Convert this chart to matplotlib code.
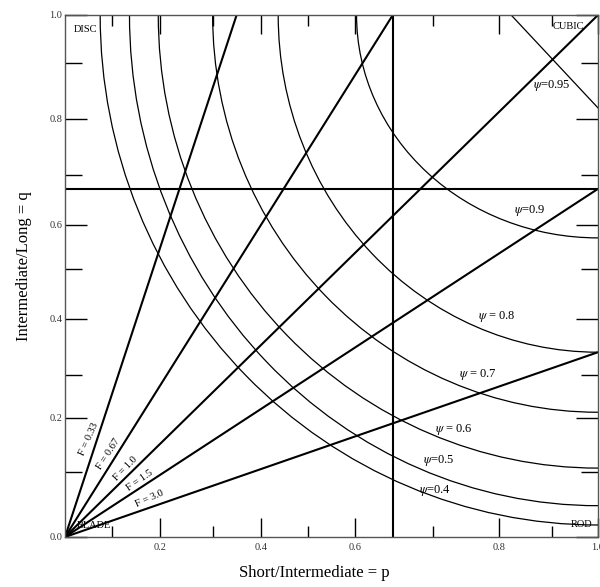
import numpy as np
import matplotlib
matplotlib.use('Agg')
import matplotlib.pyplot as plt
from matplotlib.patches import Arc

plt.rcParams['font.family'] = 'Liberation Serif'
plt.rcParams['mathtext.fontset'] = 'stix'

# flatness lines from the origin, end points (p, q)
F_labels = ['F = 0.33', 'F = 0.67', 'F = 1.0', 'F = 1.5', 'F = 3.0']
F_end_p = [0.322, 0.615, 1.0, 1.0, 1.0]
F_end_q = [1.0, 1.0, 1.0, 0.667, 0.354]

# sphericity curves, quarter arcs about the (1,1) corner
psi_labels = [r'$\psi$=0.4', r'$\psi$=0.5', r'$\psi$ = 0.6', r'$\psi$ = 0.7',
              r'$\psi$ = 0.8', r'$\psi$=0.9']
psi_rx = [0.934, 0.879, 0.825, 0.723, 0.600, 0.453]
psi_ry = [0.977, 0.940, 0.868, 0.761, 0.646, 0.427]
# psi = 0.95 is drawn as a short straight segment
psi95_p = [0.837, 1.0]
psi95_q = [1.0, 0.822]

# class boundaries
p_class = 0.616
q_class = 0.667

corner_names = ['DISC', 'CUBIC', 'BLADE', 'ROD']

x_major = [0.178, 0.368, 0.545, 0.814, 1.0]
x_major_labels = ['0.2', '0.4', '0.6', '0.8', '1.0']
x_minor = [0.088, 0.277, 0.456, 0.691, 0.914]
y_major = [0.0, 0.228, 0.418, 0.598, 0.801, 1.0]
y_major_labels = ['0.0', '0.2', '0.4', '0.6', '0.8', '1.0']
y_minor = [0.1245, 0.310, 0.513, 0.693, 0.9075]

# label placement (layout only)
F_text_pos = [(0.045, 0.188), (0.082, 0.160), (0.114, 0.132), (0.141, 0.108), (0.158, 0.073)]
F_text_rot = [66, 57, 46, 35, 24]
psi_text_pos = [(0.694, 0.090), (0.702, 0.1475), (0.729, 0.206), (0.774, 0.312),
                (0.811, 0.423), (0.872, 0.625)]
psi95_text_pos = (0.914, 0.864)
corner_pos = [(0.0385, 0.972), (0.944, 0.978), (0.055, 0.0216), (0.970, 0.024)]

fig = plt.figure(figsize=(6, 5.87), dpi=100)
ax = fig.add_axes([65/600, 50/587, 533/600, 522/587])

# thick lines
for p_end, q_end in zip(F_end_p, F_end_q):
    ax.plot([0, p_end], [0, q_end], color='black', lw=1.5, solid_capstyle='butt')
ax.axvline(p_class, color='black', lw=1.5)
ax.axhline(q_class, color='black', lw=1.5)

# sphericity arcs
for rx, ry in zip(psi_rx, psi_ry):
    ax.add_patch(Arc((1, 1), 2*rx, 2*ry, theta1=180, theta2=270,
                     color='black', lw=0.9))
ax.plot(psi95_p, psi95_q, color='black', lw=0.9)

for lab, (px, py), rot in zip(F_labels, F_text_pos, F_text_rot):
    ax.text(px, py, lab, rotation=rot, rotation_mode='anchor',
            ha='center', va='center', fontsize=7.5)
for lab, (px, py) in zip(psi_labels, psi_text_pos):
    ax.text(px, py, lab, ha='center', va='center', fontsize=9)
ax.text(psi95_text_pos[0], psi95_text_pos[1], r'$\psi$=0.95',
        ha='center', va='center', fontsize=9)

for name, (px, py) in zip(corner_names, corner_pos):
    ax.text(px, py, name, ha='center', va='center', fontsize=7.5)

ax.set_xlim(0, 1)
ax.set_ylim(0, 1)
ax.set_xticks(x_major)
ax.set_xticklabels(x_major_labels)
ax.set_xticks(x_minor, minor=True)
ax.set_yticks(y_major)
ax.set_yticklabels(y_major_labels)
ax.set_yticks(y_minor, minor=True)

ax.tick_params(which='both', direction='in', top=True, right=True,
               labelsize=7.5, labelcolor='#333333', width=1)
ax.tick_params(axis='x', which='major', length=14, pad=4)
ax.tick_params(axis='x', which='minor', length=8)
ax.tick_params(axis='y', which='major', length=16, pad=2)
ax.tick_params(axis='y', which='minor', length=12.5)

for s in ax.spines.values():
    s.set_color('#555555')
    s.set_linewidth(1)

ax.set_xlabel('Short/Intermediate = p', fontsize=12)
ax.xaxis.set_label_coords(0.467, -0.054)
ax.set_ylabel('Intermediate/Long = q', fontsize=12)
ax.yaxis.set_label_coords(-0.062, 0.518)

plt.savefig('out.png', dpi=100)
